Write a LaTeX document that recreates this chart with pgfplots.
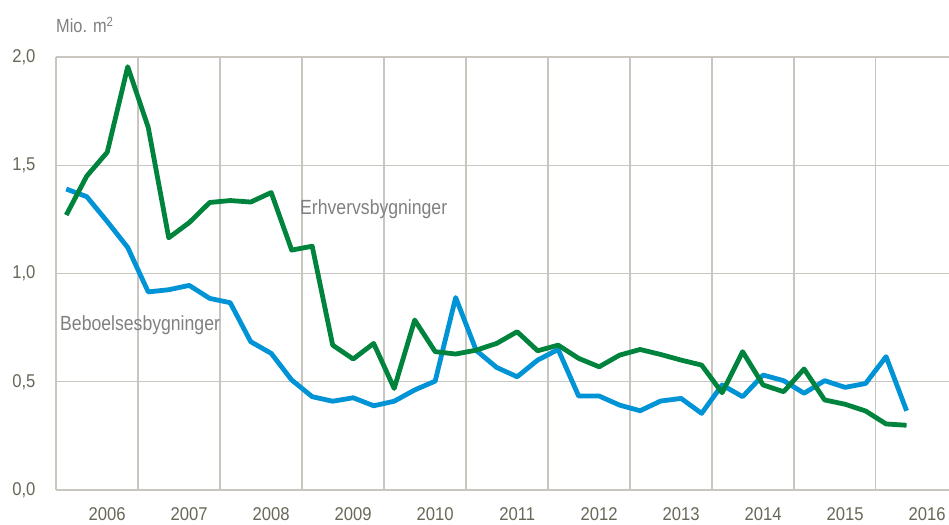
\documentclass[border=0pt]{standalone}
\usepackage{pgfplots}
\pgfplotsset{compat=1.18}
\usepackage{pgfplotstable}
\usepackage{fontspec}
\setmainfont{Liberation Sans}[FakeStretch=0.9]
\newfontfamily\lblfont{Liberation Sans}[FakeStretch=0.86]
\definecolor{grn}{RGB}{0,132,61}
\definecolor{blu}{RGB}{0,148,214}
\definecolor{gridc}{RGB}{200,198,190}
\definecolor{tickc}{RGB}{104,103,88}
\definecolor{labc}{RGB}{128,128,128}
\pgfplotstableread{
q green blue
0 1.270 1.390
1 1.450 1.355
2 1.560 1.240
3 1.955 1.120
4 1.675 0.915
5 1.165 0.925
6 1.235 0.945
7 1.328 0.885
8 1.337 0.865
9 1.330 0.685
10 1.374 0.631
11 1.108 0.508
12 1.126 0.431
13 0.669 0.410
14 0.605 0.426
15 0.677 0.389
16 0.469 0.410
17 0.785 0.462
18 0.639 0.503
19 0.628 0.889
20 0.646 0.645
21 0.677 0.566
22 0.731 0.523
23 0.643 0.600
24 0.669 0.649
25 0.608 0.434
26 0.569 0.434
27 0.623 0.392
28 0.649 0.366
29 0.626 0.411
30 0.600 0.423
31 0.577 0.354
32 0.449 0.485
33 0.639 0.431
34 0.485 0.531
35 0.454 0.505
36 0.559 0.447
37 0.416 0.505
38 0.396 0.474
39 0.365 0.492
40 0.305 0.616
41 0.299 0.366
}\data
\begin{document}
\begin{tikzpicture}
\path[use as bounding box] (0pt,0pt) rectangle (949pt,524pt);
\begin{axis}[
  at={(56pt,34pt)}, anchor=south west,
  scale only axis, width=893pt, height=433pt,
  xmin=-0.5, xmax=43.07, ymin=0, ymax=2,
  axis x line=bottom, axis y line=left,
  axis line style={draw=gridc, line width=1.3pt, -},
  xtick={-0.5,3.5,...,39.5}, xticklabels={},
  ytick={0,0.5,1,1.5,2},
  xmajorgrids, ymajorgrids,
  major grid style={draw=gridc, line width=1.3pt},
  major tick length=0pt,
  extra x ticks={2,6,...,42},
  extra x tick labels={2006,2007,2008,2009,2010,2011,2012,2013,2014,2015,2016},
  extra x tick style={grid=none, major tick length=0pt},
  ticklabel style={font=\fontsize{18.5}{20}\selectfont, text=tickc},
  xticklabel style={yshift=-14pt},
  yticklabel style={xshift=-17pt},
  /pgf/number format/.cd, fixed, fixed zerofill, precision=1, use comma, assume math mode=true,
  /pgfplots/.cd,
  clip=false,
]
\addplot[blu, line width=4.8pt, line join=round] table[x=q, y=blue] {\data};
\addplot[grn, line width=4.8pt, line join=round] table[x=q, y=green] {\data};
\end{axis}
\node[anchor=base west, inner sep=0pt, text=labc, font=\lblfont\fontsize{19}{20}\selectfont] at (56pt,491.7pt) {Mio. m\textsuperscript{2}};
\node[anchor=west, inner sep=0pt, text=labc, font=\lblfont\fontsize{20.5}{22}\selectfont] at (300pt,315pt) {Erhvervsbygninger};
\node[anchor=west, inner sep=0pt, text=labc, font=\lblfont\fontsize{20.5}{22}\selectfont] at (60pt,199pt) {Beboelsesbygninger};
\end{tikzpicture}
\end{document}
